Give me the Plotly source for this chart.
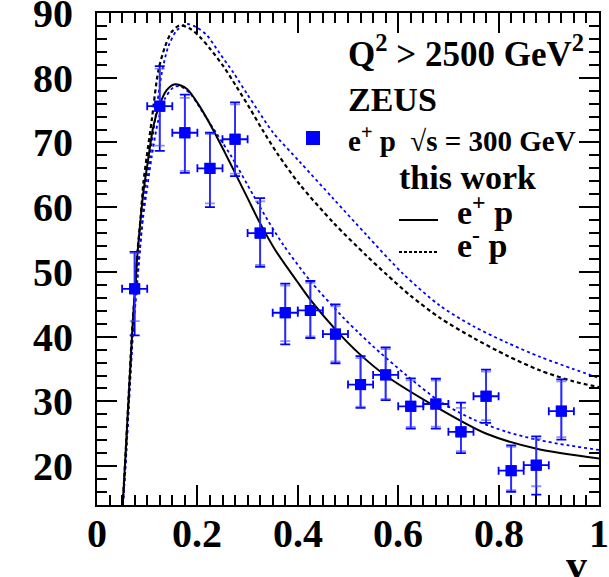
import plotly.graph_objects as go

# ---------------- data ----------------
x_pts = [0.075, 0.125, 0.175, 0.225, 0.275, 0.325, 0.375, 0.425, 0.475,
         0.525, 0.575, 0.625, 0.675, 0.725, 0.775, 0.825, 0.875, 0.925]
y_pts = [47.4, 75.6, 71.5, 66.0, 70.5, 56.0, 43.7, 44.05, 40.4,
         32.6, 34.1, 29.25, 29.6, 25.3, 30.8, 19.3, 20.15, 28.5]
x_err = [0.025] * 18
tot_up = [5.7, 6.2, 5.9, 5.5, 5.7, 5.4, 4.5, 4.55, 4.6, 4.4, 4.25, 4.3, 3.9, 4.5, 4.1, 3.9, 4.45, 4.9]
tot_dn = [7.2, 6.9, 6.2, 6.0, 5.7, 5.2, 4.9, 4.25, 4.5, 3.6, 3.9, 3.45, 3.8, 3.3, 4.1, 3.25, 4.55, 4.4]
stat_up = [5.5, 5.8, 5.4, 5.3, 5.4, 4.9, 4.2, 4.25, 4.3, 4.1, 4.0, 4.0, 3.6, 3.7, 3.8, 3.7, 4.05, 4.6]
stat_dn = [5.0, 6.1, 5.9, 5.4, 5.3, 4.9, 4.4, 4.0, 4.2, 3.4, 3.7, 3.2, 3.5, 3.0, 3.7, 3.0, 3.25, 4.0]

# this work, e+ p (solid)
x_ep = [0.0512, 0.0556, 0.0628, 0.0700, 0.0789, 0.0843, 0.0922, 0.1023, 0.112, 0.1255,
        0.1388, 0.1554, 0.1787, 0.2052, 0.2317, 0.255, 0.275, 0.30, 0.325, 0.355,
        0.398, 0.424, 0.4775, 0.5206, 0.575, 0.67, 0.776, 0.876, 1.0]
y_ep = [14.0, 20.0, 30.3, 40.5, 51.2, 56.0, 62.2, 67.6, 72.4, 76.0,
        78.1, 79.0, 78.3, 75.5, 71.9, 68.4, 65.3, 61.4, 57.5, 53.4,
        48.6, 45.8, 40.9, 37.5, 34.0, 29.4, 25.0, 22.7, 21.2]

# this work, e- p (dashed)
x_em = [0.0512, 0.0556, 0.0628, 0.0700, 0.0757, 0.081, 0.087, 0.0923, 0.099, 0.109,
        0.122, 0.1355, 0.149, 0.165, 0.185, 0.205, 0.225, 0.2516, 0.278, 0.305,
        0.33, 0.36, 0.404, 0.471, 0.537, 0.577, 0.6235, 0.683, 0.75, 0.816,
        0.882, 0.949, 1.0]
y_em = [14.0, 20.0, 30.5, 41.0, 47.2, 53.4, 58.5, 63.7, 67.8, 73.4,
        81.0, 84.8, 87.1, 88.1, 87.6, 86.3, 84.5, 81.8, 78.6, 75.2,
        71.9, 68.2, 63.5, 57.6, 52.5, 49.6, 46.4, 42.9, 39.8, 37.1,
        34.8, 33.1, 32.2]

# blue dotted, upper band curve
x_bu = [0.0515, 0.057, 0.064, 0.0715, 0.079, 0.0857, 0.091, 0.0976, 0.1056, 0.1155,
        0.129, 0.142, 0.1587, 0.1787, 0.198, 0.2185, 0.245, 0.2716, 0.298, 0.321,
        0.35, 0.404, 0.471, 0.537, 0.61, 0.683, 0.75, 0.816, 0.882, 0.949, 1.0]
y_bu = [14.0, 20.0, 30.3, 40.5, 47.2, 53.4, 58.5, 63.7, 67.8, 73.4,
        80.7, 84.8, 87.3, 88.3, 87.8, 86.6, 83.7, 80.8, 77.6, 74.9,
        71.6, 67.0, 61.3, 55.7, 49.7, 44.8, 41.6, 39.1, 36.9, 35.0, 33.6]

# blue dotted, lower band curve
x_bl = [0.0518, 0.0565, 0.064, 0.0715, 0.078, 0.085, 0.092, 0.100, 0.109, 0.122,
        0.1355, 0.152, 0.165, 0.185, 0.212, 0.238, 0.268, 0.311, 0.34, 0.371,
        0.424, 0.49, 0.52, 0.55, 0.617, 0.683, 0.75, 0.816, 0.876, 0.94, 1.0]
y_bl = [14.0, 20.0, 30.3, 40.5, 47.2, 53.4, 58.5, 63.0, 67.8, 73.4,
        76.8, 78.5, 78.7, 77.6, 74.5, 71.4, 67.8, 61.9, 58.0, 54.2,
        48.7, 43.0, 40.7, 38.5, 34.0, 30.0, 27.2, 25.3, 24.1, 23.2, 22.5]

x_tickvals = [0, 0.2, 0.4, 0.6, 0.8, 1.0]
x_ticktext = ["0", "0.2", "0.4", "0.6", "0.8", "1"]
y_tickvals = [20, 30, 40, 50, 60, 70, 80, 90]
y_ticktext = ["20", "30", "40", "50", "60", "70", "80", "90"]

# ---------------- layout geometry ----------------
W, H = 609, 577
L, R, T, B = 97, 10, 13, 72
PW, PH = W - L - R, H - T - B


def px(xp):
    return (xp - L) / PW


def py(yp):
    return (H - B - yp) / PH


FONT = "Liberation Serif"
BLUE = "#0000ff"
SPL = dict(shape="spline", smoothing=0.8)

fig = go.Figure()

fig.add_trace(go.Scatter(x=x_bu, y=y_bu, mode="lines",
                         line=dict(color=BLUE, width=1.8, dash="dot", **SPL), showlegend=False))
fig.add_trace(go.Scatter(x=x_bl, y=y_bl, mode="lines",
                         line=dict(color=BLUE, width=1.8, dash="dot", **SPL), showlegend=False))
fig.add_trace(go.Scatter(x=x_em, y=y_em, mode="lines",
                         line=dict(color="black", width=2.2, dash="4px,3px", **SPL), showlegend=False))
fig.add_trace(go.Scatter(x=x_ep, y=y_ep, mode="lines",
                         line=dict(color="black", width=2, **SPL), showlegend=False))

# total errors
fig.add_trace(go.Scatter(
    x=x_pts, y=y_pts, mode="markers",
    marker=dict(symbol="square", size=11, color=BLUE),
    error_y=dict(type="data", symmetric=False, array=tot_up, arrayminus=tot_dn,
                 color=BLUE, thickness=1.8, width=5),
    error_x=dict(type="data", array=x_err, color=BLUE, thickness=1.8, width=4),
    showlegend=False))
# statistical errors
fig.add_trace(go.Scatter(
    x=x_pts, y=y_pts, mode="markers",
    marker=dict(symbol="square", size=11, color=BLUE),
    error_y=dict(type="data", symmetric=False, array=stat_up, arrayminus=stat_dn,
                 color="rgba(70,70,255,0.6)", thickness=1.8, width=5),
    showlegend=False))

axis_common = dict(
    ticks="inside", ticklen=20, tickwidth=1.5, tickcolor="black",
    showline=True, linewidth=2, linecolor="black", mirror="allticks",
    showgrid=False, zeroline=False, ticklabeloverflow="allow", automargin=False,
    tickfont=dict(family=FONT, size=40, color="black", weight="bold"),
)

fig.update_xaxes(range=[0, 1], tickmode="array", tickvals=x_tickvals, ticktext=x_ticktext,
                 showticklabels=False,
                 minor=dict(tick0=0, dtick=0.025, ticks="inside", ticklen=10, tickwidth=1.5,
                            tickcolor="black", showgrid=False),
                 **axis_common)
fig.update_yaxes(range=[14, 90], tickmode="array", tickvals=y_tickvals, ticktext=y_ticktext,
                 minor=dict(tick0=0, dtick=2, ticks="inside", ticklen=10, tickwidth=1.5,
                            tickcolor="black", showgrid=False),
                 ticklabelstandoff=14, **axis_common)

ann = []


def text(t, x, y, size, xanchor="left"):
    ann.append(dict(text=t, x=px(x), y=py(y), xref="paper", yref="paper",
                    xanchor=xanchor, yanchor="middle", showarrow=False,
                    font=dict(family=FONT, size=size, color="black", weight="bold")))


# x tick labels placed on the x axis scale
for v, t in zip(x_tickvals, x_ticktext):
    ann.append(dict(text=t, x=v, xref="x", y=py(533), yref="paper",
                    xanchor="center", yanchor="middle", showarrow=False,
                    font=dict(family=FONT, size=40, color="black", weight="bold")))

text("Q<sup>2</sup> &gt; 2500 GeV<sup>2</sup>", 346, 51, 35)
text("ZEUS", 346, 99, 34)
text("e<sup>+</sup> p \u00a0\u221as = 300 GeV", 346, 139, 29)
text("this work", 397, 177, 34)
text("e<sup>+</sup> p", 455, 210, 34)
text("e<sup>-</sup> p", 455, 243, 34)
text("v", 576, 565, 42, xanchor="center")

fig.update_layout(
    width=W, height=H,
    margin=dict(l=L, r=R, t=T, b=B, autoexpand=False),
    paper_bgcolor="white", plot_bgcolor="white",
    annotations=ann,
    shapes=[
        dict(type="rect", xref="paper", yref="paper",
             x0=px(306), x1=px(320), y0=py(145), y1=py(131),
             fillcolor=BLUE, line=dict(width=0)),
        dict(type="line", xref="paper", yref="paper",
             x0=px(399), x1=px(438), y0=py(220), y1=py(220),
             line=dict(color="black", width=2)),
        dict(type="line", xref="paper", yref="paper",
             x0=px(399), x1=px(438), y0=py(252), y1=py(252),
             line=dict(color="black", width=2, dash="3px,2px")),
    ],
)

fig.write_html("out.html")
